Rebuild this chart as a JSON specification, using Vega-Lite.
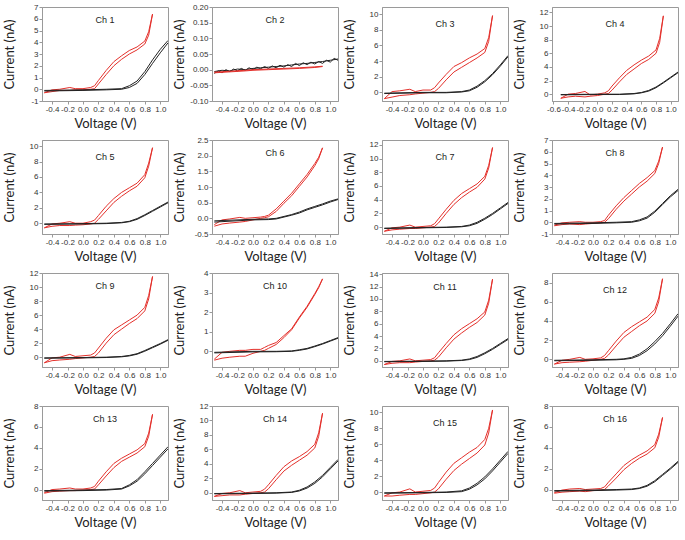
{
"$schema": "https://vega.github.io/schema/vega-lite/v6.json",
"padding": {"left": 2, "top": 2, "right": 1, "bottom": 1},
"background": "white",
"data": {"values": [
{"c":1,"s":"r1","v":-0.5,"i":-0.3},{"c":1,"s":"r1","v":-0.4,"i":-0.05},{"c":1,"s":"r1","v":-0.3,"i":0.0},{"c":1,"s":"r1","v":-0.17,"i":0.15},{"c":1,"s":"r1","v":-0.1,"i":0.05},{"c":1,"s":"r1","v":0,"i":0.05},{"c":1,"s":"r1","v":0.1,"i":0.15},{"c":1,"s":"r1","v":0.15,"i":0.3},{"c":1,"s":"r1","v":0.2,"i":0.75},{"c":1,"s":"r1","v":0.3,"i":1.6},{"c":1,"s":"r1","v":0.4,"i":2.35},{"c":1,"s":"r1","v":0.5,"i":2.85},{"c":1,"s":"r1","v":0.6,"i":3.3},{"c":1,"s":"r1","v":0.7,"i":3.6},{"c":1,"s":"r1","v":0.8,"i":4.1},{"c":1,"s":"r1","v":0.85,"i":4.9},{"c":1,"s":"r1","v":0.9,"i":6.4},
{"c":1,"s":"r2","v":-0.5,"i":-0.3},{"c":1,"s":"r2","v":-0.4,"i":-0.2},{"c":1,"s":"r2","v":-0.3,"i":-0.1},{"c":1,"s":"r2","v":-0.17,"i":-0.1},{"c":1,"s":"r2","v":-0.1,"i":-0.05},{"c":1,"s":"r2","v":0,"i":-0.05},{"c":1,"s":"r2","v":0.1,"i":0.0},{"c":1,"s":"r2","v":0.15,"i":0.05},{"c":1,"s":"r2","v":0.2,"i":0.45},{"c":1,"s":"r2","v":0.3,"i":1.25},{"c":1,"s":"r2","v":0.4,"i":2.0},{"c":1,"s":"r2","v":0.5,"i":2.55},{"c":1,"s":"r2","v":0.6,"i":3.0},{"c":1,"s":"r2","v":0.7,"i":3.35},{"c":1,"s":"r2","v":0.8,"i":3.85},{"c":1,"s":"r2","v":0.85,"i":4.6},{"c":1,"s":"r2","v":0.9,"i":6.4},
{"c":1,"s":"k1","v":-0.5,"i":-0.1},{"c":1,"s":"k1","v":0,"i":-0.05},{"c":1,"s":"k1","v":0.3,"i":0.0},{"c":1,"s":"k1","v":0.5,"i":0.05},{"c":1,"s":"k1","v":0.6,"i":0.3},{"c":1,"s":"k1","v":0.7,"i":0.7},{"c":1,"s":"k1","v":0.8,"i":1.5},{"c":1,"s":"k1","v":0.9,"i":2.5},{"c":1,"s":"k1","v":1.0,"i":3.4},{"c":1,"s":"k1","v":1.1,"i":4.15},
{"c":1,"s":"k2","v":-0.5,"i":-0.15},{"c":1,"s":"k2","v":0,"i":-0.1},{"c":1,"s":"k2","v":0.3,"i":-0.05},{"c":1,"s":"k2","v":0.5,"i":0.0},{"c":1,"s":"k2","v":0.6,"i":0.15},{"c":1,"s":"k2","v":0.7,"i":0.5},{"c":1,"s":"k2","v":0.8,"i":1.25},{"c":1,"s":"k2","v":0.9,"i":2.2},{"c":1,"s":"k2","v":1.0,"i":3.1},{"c":1,"s":"k2","v":1.1,"i":3.95},

{"c":2,"s":"k1","v":-0.5,"i":-0.012},{"c":2,"s":"k1","v":-0.45,"i":-0.004},{"c":2,"s":"k1","v":-0.4,"i":-0.010},{"c":2,"s":"k1","v":-0.35,"i":0.0},{"c":2,"s":"k1","v":-0.3,"i":-0.006},{"c":2,"s":"k1","v":-0.25,"i":0.002},{"c":2,"s":"k1","v":-0.2,"i":-0.004},{"c":2,"s":"k1","v":-0.15,"i":0.004},{"c":2,"s":"k1","v":-0.1,"i":-0.002},{"c":2,"s":"k1","v":-0.05,"i":0.006},{"c":2,"s":"k1","v":0,"i":0.0},{"c":2,"s":"k1","v":0.05,"i":0.008},{"c":2,"s":"k1","v":0.1,"i":0.003},{"c":2,"s":"k1","v":0.15,"i":0.010},{"c":2,"s":"k1","v":0.2,"i":0.004},{"c":2,"s":"k1","v":0.25,"i":0.012},{"c":2,"s":"k1","v":0.3,"i":0.006},{"c":2,"s":"k1","v":0.35,"i":0.014},{"c":2,"s":"k1","v":0.4,"i":0.008},{"c":2,"s":"k1","v":0.45,"i":0.016},{"c":2,"s":"k1","v":0.5,"i":0.010},{"c":2,"s":"k1","v":0.55,"i":0.020},{"c":2,"s":"k1","v":0.6,"i":0.013},{"c":2,"s":"k1","v":0.65,"i":0.022},{"c":2,"s":"k1","v":0.7,"i":0.016},{"c":2,"s":"k1","v":0.75,"i":0.024},{"c":2,"s":"k1","v":0.8,"i":0.018},{"c":2,"s":"k1","v":0.85,"i":0.026},{"c":2,"s":"k1","v":0.9,"i":0.020},{"c":2,"s":"k1","v":0.95,"i":0.030},{"c":2,"s":"k1","v":1.0,"i":0.024},{"c":2,"s":"k1","v":1.05,"i":0.036},{"c":2,"s":"k1","v":1.1,"i":0.030},
{"c":2,"s":"k2","v":-0.5,"i":-0.006},{"c":2,"s":"k2","v":-0.4,"i":-0.002},{"c":2,"s":"k2","v":-0.3,"i":-0.004},{"c":2,"s":"k2","v":-0.2,"i":0.002},{"c":2,"s":"k2","v":-0.1,"i":0.0},{"c":2,"s":"k2","v":0,"i":0.004},{"c":2,"s":"k2","v":0.1,"i":0.006},{"c":2,"s":"k2","v":0.2,"i":0.008},{"c":2,"s":"k2","v":0.3,"i":0.010},{"c":2,"s":"k2","v":0.4,"i":0.012},{"c":2,"s":"k2","v":0.5,"i":0.015},{"c":2,"s":"k2","v":0.6,"i":0.018},{"c":2,"s":"k2","v":0.7,"i":0.020},{"c":2,"s":"k2","v":0.8,"i":0.023},{"c":2,"s":"k2","v":0.9,"i":0.026},{"c":2,"s":"k2","v":1.0,"i":0.030},{"c":2,"s":"k2","v":1.1,"i":0.034},
{"c":2,"s":"r1","v":-0.5,"i":-0.008},{"c":2,"s":"r1","v":-0.3,"i":-0.005},{"c":2,"s":"r1","v":-0.1,"i":-0.002},{"c":2,"s":"r1","v":0,"i":0.0},{"c":2,"s":"r1","v":0.2,"i":0.002},{"c":2,"s":"r1","v":0.4,"i":0.004},{"c":2,"s":"r1","v":0.6,"i":0.006},{"c":2,"s":"r1","v":0.8,"i":0.009},{"c":2,"s":"r1","v":0.9,"i":0.011},
{"c":2,"s":"r2","v":-0.5,"i":-0.010},{"c":2,"s":"r2","v":-0.3,"i":-0.007},{"c":2,"s":"r2","v":-0.1,"i":-0.004},{"c":2,"s":"r2","v":0,"i":-0.002},{"c":2,"s":"r2","v":0.2,"i":0.0},{"c":2,"s":"r2","v":0.4,"i":0.002},{"c":2,"s":"r2","v":0.6,"i":0.004},{"c":2,"s":"r2","v":0.8,"i":0.007},{"c":2,"s":"r2","v":0.9,"i":0.010},

{"c":3,"s":"r1","v":-0.5,"i":-0.8},{"c":3,"s":"r1","v":-0.4,"i":0.1},{"c":3,"s":"r1","v":-0.3,"i":0.2},{"c":3,"s":"r1","v":-0.17,"i":0.4},{"c":3,"s":"r1","v":-0.1,"i":0.1},{"c":3,"s":"r1","v":0,"i":0.3},{"c":3,"s":"r1","v":0.1,"i":0.3},{"c":3,"s":"r1","v":0.15,"i":0.6},{"c":3,"s":"r1","v":0.2,"i":1.2},{"c":3,"s":"r1","v":0.3,"i":2.3},{"c":3,"s":"r1","v":0.4,"i":3.3},{"c":3,"s":"r1","v":0.5,"i":3.8},{"c":3,"s":"r1","v":0.6,"i":4.4},{"c":3,"s":"r1","v":0.7,"i":4.9},{"c":3,"s":"r1","v":0.8,"i":5.6},{"c":3,"s":"r1","v":0.85,"i":7.0},{"c":3,"s":"r1","v":0.9,"i":9.8},
{"c":3,"s":"r2","v":-0.5,"i":-0.8},{"c":3,"s":"r2","v":-0.4,"i":-0.6},{"c":3,"s":"r2","v":-0.3,"i":-0.4},{"c":3,"s":"r2","v":-0.17,"i":-0.3},{"c":3,"s":"r2","v":-0.1,"i":-0.2},{"c":3,"s":"r2","v":0,"i":-0.1},{"c":3,"s":"r2","v":0.1,"i":0.0},{"c":3,"s":"r2","v":0.15,"i":0.1},{"c":3,"s":"r2","v":0.2,"i":0.5},{"c":3,"s":"r2","v":0.3,"i":1.6},{"c":3,"s":"r2","v":0.4,"i":2.6},{"c":3,"s":"r2","v":0.5,"i":3.2},{"c":3,"s":"r2","v":0.6,"i":3.8},{"c":3,"s":"r2","v":0.7,"i":4.4},{"c":3,"s":"r2","v":0.8,"i":5.1},{"c":3,"s":"r2","v":0.85,"i":6.5},{"c":3,"s":"r2","v":0.9,"i":9.8},
{"c":3,"s":"k1","v":-0.5,"i":-0.1},{"c":3,"s":"k1","v":0,"i":0.0},{"c":3,"s":"k1","v":0.3,"i":0.0},{"c":3,"s":"k1","v":0.5,"i":0.1},{"c":3,"s":"k1","v":0.6,"i":0.3},{"c":3,"s":"k1","v":0.7,"i":0.8},{"c":3,"s":"k1","v":0.8,"i":1.5},{"c":3,"s":"k1","v":0.9,"i":2.4},{"c":3,"s":"k1","v":1.0,"i":3.5},{"c":3,"s":"k1","v":1.1,"i":4.7},
{"c":3,"s":"k2","v":-0.5,"i":-0.15},{"c":3,"s":"k2","v":0,"i":-0.05},{"c":3,"s":"k2","v":0.3,"i":-0.05},{"c":3,"s":"k2","v":0.5,"i":0.05},{"c":3,"s":"k2","v":0.6,"i":0.2},{"c":3,"s":"k2","v":0.7,"i":0.65},{"c":3,"s":"k2","v":0.8,"i":1.35},{"c":3,"s":"k2","v":0.9,"i":2.25},{"c":3,"s":"k2","v":1.0,"i":3.35},{"c":3,"s":"k2","v":1.1,"i":4.55},

{"c":4,"s":"r1","v":-0.5,"i":-0.6},{"c":4,"s":"r1","v":-0.4,"i":0.0},{"c":4,"s":"r1","v":-0.3,"i":0.1},{"c":4,"s":"r1","v":-0.17,"i":0.4},{"c":4,"s":"r1","v":-0.1,"i":-0.1},{"c":4,"s":"r1","v":0,"i":0.0},{"c":4,"s":"r1","v":0.1,"i":0.2},{"c":4,"s":"r1","v":0.15,"i":0.5},{"c":4,"s":"r1","v":0.2,"i":1.2},{"c":4,"s":"r1","v":0.3,"i":2.4},{"c":4,"s":"r1","v":0.4,"i":3.5},{"c":4,"s":"r1","v":0.5,"i":4.3},{"c":4,"s":"r1","v":0.6,"i":5.0},{"c":4,"s":"r1","v":0.7,"i":5.6},{"c":4,"s":"r1","v":0.8,"i":6.5},{"c":4,"s":"r1","v":0.85,"i":8.2},{"c":4,"s":"r1","v":0.9,"i":11.5},
{"c":4,"s":"r2","v":-0.5,"i":-0.6},{"c":4,"s":"r2","v":-0.4,"i":-0.4},{"c":4,"s":"r2","v":-0.3,"i":-0.3},{"c":4,"s":"r2","v":-0.17,"i":-0.4},{"c":4,"s":"r2","v":-0.1,"i":-0.3},{"c":4,"s":"r2","v":0,"i":-0.2},{"c":4,"s":"r2","v":0.1,"i":0.0},{"c":4,"s":"r2","v":0.15,"i":0.1},{"c":4,"s":"r2","v":0.2,"i":0.6},{"c":4,"s":"r2","v":0.3,"i":1.8},{"c":4,"s":"r2","v":0.4,"i":2.9},{"c":4,"s":"r2","v":0.5,"i":3.7},{"c":4,"s":"r2","v":0.6,"i":4.5},{"c":4,"s":"r2","v":0.7,"i":5.1},{"c":4,"s":"r2","v":0.8,"i":6.0},{"c":4,"s":"r2","v":0.85,"i":7.6},{"c":4,"s":"r2","v":0.9,"i":11.5},
{"c":4,"s":"k1","v":-0.5,"i":-0.05},{"c":4,"s":"k1","v":0,"i":0.0},{"c":4,"s":"k1","v":0.3,"i":0.0},{"c":4,"s":"k1","v":0.5,"i":0.1},{"c":4,"s":"k1","v":0.6,"i":0.25},{"c":4,"s":"k1","v":0.7,"i":0.55},{"c":4,"s":"k1","v":0.8,"i":1.05},{"c":4,"s":"k1","v":0.9,"i":1.75},{"c":4,"s":"k1","v":1.0,"i":2.5},{"c":4,"s":"k1","v":1.1,"i":3.25},
{"c":4,"s":"k2","v":-0.5,"i":-0.1},{"c":4,"s":"k2","v":0,"i":-0.05},{"c":4,"s":"k2","v":0.3,"i":-0.05},{"c":4,"s":"k2","v":0.5,"i":0.05},{"c":4,"s":"k2","v":0.6,"i":0.2},{"c":4,"s":"k2","v":0.7,"i":0.45},{"c":4,"s":"k2","v":0.8,"i":0.95},{"c":4,"s":"k2","v":0.9,"i":1.65},{"c":4,"s":"k2","v":1.0,"i":2.4},{"c":4,"s":"k2","v":1.1,"i":3.15},

{"c":5,"s":"r1","v":-0.5,"i":-0.6},{"c":5,"s":"r1","v":-0.4,"i":-0.1},{"c":5,"s":"r1","v":-0.3,"i":0.0},{"c":5,"s":"r1","v":-0.17,"i":0.2},{"c":5,"s":"r1","v":-0.1,"i":0.0},{"c":5,"s":"r1","v":0,"i":0.0},{"c":5,"s":"r1","v":0.1,"i":0.2},{"c":5,"s":"r1","v":0.15,"i":0.4},{"c":5,"s":"r1","v":0.2,"i":1.0},{"c":5,"s":"r1","v":0.3,"i":2.2},{"c":5,"s":"r1","v":0.4,"i":3.2},{"c":5,"s":"r1","v":0.5,"i":4.0},{"c":5,"s":"r1","v":0.6,"i":4.6},{"c":5,"s":"r1","v":0.7,"i":5.2},{"c":5,"s":"r1","v":0.8,"i":6.3},{"c":5,"s":"r1","v":0.85,"i":7.8},{"c":5,"s":"r1","v":0.9,"i":9.8},
{"c":5,"s":"r2","v":-0.5,"i":-0.6},{"c":5,"s":"r2","v":-0.4,"i":-0.4},{"c":5,"s":"r2","v":-0.3,"i":-0.3},{"c":5,"s":"r2","v":-0.17,"i":-0.3},{"c":5,"s":"r2","v":-0.1,"i":-0.25},{"c":5,"s":"r2","v":0,"i":-0.2},{"c":5,"s":"r2","v":0.1,"i":-0.1},{"c":5,"s":"r2","v":0.15,"i":0.0},{"c":5,"s":"r2","v":0.2,"i":0.5},{"c":5,"s":"r2","v":0.3,"i":1.6},{"c":5,"s":"r2","v":0.4,"i":2.7},{"c":5,"s":"r2","v":0.5,"i":3.5},{"c":5,"s":"r2","v":0.6,"i":4.2},{"c":5,"s":"r2","v":0.7,"i":4.8},{"c":5,"s":"r2","v":0.8,"i":5.9},{"c":5,"s":"r2","v":0.85,"i":7.4},{"c":5,"s":"r2","v":0.9,"i":9.8},
{"c":5,"s":"k1","v":-0.5,"i":-0.1},{"c":5,"s":"k1","v":0,"i":-0.05},{"c":5,"s":"k1","v":0.3,"i":0.0},{"c":5,"s":"k1","v":0.5,"i":0.1},{"c":5,"s":"k1","v":0.6,"i":0.25},{"c":5,"s":"k1","v":0.7,"i":0.6},{"c":5,"s":"k1","v":0.8,"i":1.1},{"c":5,"s":"k1","v":0.9,"i":1.65},{"c":5,"s":"k1","v":1.0,"i":2.2},{"c":5,"s":"k1","v":1.1,"i":2.75},
{"c":5,"s":"k2","v":-0.5,"i":-0.15},{"c":5,"s":"k2","v":0,"i":-0.1},{"c":5,"s":"k2","v":0.3,"i":-0.05},{"c":5,"s":"k2","v":0.5,"i":0.05},{"c":5,"s":"k2","v":0.6,"i":0.2},{"c":5,"s":"k2","v":0.7,"i":0.5},{"c":5,"s":"k2","v":0.8,"i":1.0},{"c":5,"s":"k2","v":0.9,"i":1.55},{"c":5,"s":"k2","v":1.0,"i":2.1},{"c":5,"s":"k2","v":1.1,"i":2.65},

{"c":6,"s":"r1","v":-0.5,"i":-0.2},{"c":6,"s":"r1","v":-0.4,"i":-0.05},{"c":6,"s":"r1","v":-0.3,"i":-0.02},{"c":6,"s":"r1","v":-0.17,"i":0.03},{"c":6,"s":"r1","v":-0.1,"i":0.0},{"c":6,"s":"r1","v":0,"i":0.02},{"c":6,"s":"r1","v":0.1,"i":0.04},{"c":6,"s":"r1","v":0.15,"i":0.06},{"c":6,"s":"r1","v":0.2,"i":0.1},{"c":6,"s":"r1","v":0.3,"i":0.3},{"c":6,"s":"r1","v":0.4,"i":0.55},{"c":6,"s":"r1","v":0.5,"i":0.8},{"c":6,"s":"r1","v":0.6,"i":1.1},{"c":6,"s":"r1","v":0.7,"i":1.4},{"c":6,"s":"r1","v":0.8,"i":1.75},{"c":6,"s":"r1","v":0.85,"i":1.95},{"c":6,"s":"r1","v":0.9,"i":2.25},
{"c":6,"s":"r2","v":-0.5,"i":-0.25},{"c":6,"s":"r2","v":-0.4,"i":-0.18},{"c":6,"s":"r2","v":-0.3,"i":-0.15},{"c":6,"s":"r2","v":-0.17,"i":-0.12},{"c":6,"s":"r2","v":-0.1,"i":-0.1},{"c":6,"s":"r2","v":0,"i":-0.05},{"c":6,"s":"r2","v":0.1,"i":0.0},{"c":6,"s":"r2","v":0.15,"i":0.02},{"c":6,"s":"r2","v":0.2,"i":0.05},{"c":6,"s":"r2","v":0.3,"i":0.22},{"c":6,"s":"r2","v":0.4,"i":0.48},{"c":6,"s":"r2","v":0.5,"i":0.72},{"c":6,"s":"r2","v":0.6,"i":1.02},{"c":6,"s":"r2","v":0.7,"i":1.32},{"c":6,"s":"r2","v":0.8,"i":1.68},{"c":6,"s":"r2","v":0.85,"i":1.9},{"c":6,"s":"r2","v":0.9,"i":2.25},
{"c":6,"s":"k1","v":-0.5,"i":-0.08},{"c":6,"s":"k1","v":0,"i":-0.03},{"c":6,"s":"k1","v":0.2,"i":-0.02},{"c":6,"s":"k1","v":0.3,"i":0.0},{"c":6,"s":"k1","v":0.5,"i":0.12},{"c":6,"s":"k1","v":0.6,"i":0.2},{"c":6,"s":"k1","v":0.7,"i":0.3},{"c":6,"s":"k1","v":0.8,"i":0.38},{"c":6,"s":"k1","v":0.9,"i":0.46},{"c":6,"s":"k1","v":1.0,"i":0.55},{"c":6,"s":"k1","v":1.1,"i":0.62},
{"c":6,"s":"k2","v":-0.5,"i":-0.12},{"c":6,"s":"k2","v":0,"i":-0.05},{"c":6,"s":"k2","v":0.2,"i":-0.04},{"c":6,"s":"k2","v":0.3,"i":-0.02},{"c":6,"s":"k2","v":0.5,"i":0.1},{"c":6,"s":"k2","v":0.6,"i":0.17},{"c":6,"s":"k2","v":0.7,"i":0.27},{"c":6,"s":"k2","v":0.8,"i":0.35},{"c":6,"s":"k2","v":0.9,"i":0.43},{"c":6,"s":"k2","v":1.0,"i":0.52},{"c":6,"s":"k2","v":1.1,"i":0.6},

{"c":7,"s":"r1","v":-0.5,"i":-0.6},{"c":7,"s":"r1","v":-0.4,"i":-0.1},{"c":7,"s":"r1","v":-0.3,"i":0.0},{"c":7,"s":"r1","v":-0.17,"i":0.3},{"c":7,"s":"r1","v":-0.1,"i":0.0},{"c":7,"s":"r1","v":0,"i":0.1},{"c":7,"s":"r1","v":0.1,"i":0.2},{"c":7,"s":"r1","v":0.15,"i":0.5},{"c":7,"s":"r1","v":0.2,"i":1.2},{"c":7,"s":"r1","v":0.3,"i":2.6},{"c":7,"s":"r1","v":0.4,"i":3.9},{"c":7,"s":"r1","v":0.5,"i":4.9},{"c":7,"s":"r1","v":0.6,"i":5.6},{"c":7,"s":"r1","v":0.7,"i":6.3},{"c":7,"s":"r1","v":0.8,"i":7.4},{"c":7,"s":"r1","v":0.85,"i":9.0},{"c":7,"s":"r1","v":0.9,"i":11.6},
{"c":7,"s":"r2","v":-0.5,"i":-0.6},{"c":7,"s":"r2","v":-0.4,"i":-0.4},{"c":7,"s":"r2","v":-0.3,"i":-0.3},{"c":7,"s":"r2","v":-0.17,"i":-0.2},{"c":7,"s":"r2","v":-0.1,"i":-0.2},{"c":7,"s":"r2","v":0,"i":-0.1},{"c":7,"s":"r2","v":0.1,"i":0.0},{"c":7,"s":"r2","v":0.15,"i":0.1},{"c":7,"s":"r2","v":0.2,"i":0.6},{"c":7,"s":"r2","v":0.3,"i":2.0},{"c":7,"s":"r2","v":0.4,"i":3.3},{"c":7,"s":"r2","v":0.5,"i":4.3},{"c":7,"s":"r2","v":0.6,"i":5.1},{"c":7,"s":"r2","v":0.7,"i":5.8},{"c":7,"s":"r2","v":0.8,"i":7.0},{"c":7,"s":"r2","v":0.85,"i":8.6},{"c":7,"s":"r2","v":0.9,"i":11.6},
{"c":7,"s":"k1","v":-0.5,"i":-0.15},{"c":7,"s":"k1","v":0,"i":-0.05},{"c":7,"s":"k1","v":0.3,"i":0.0},{"c":7,"s":"k1","v":0.5,"i":0.1},{"c":7,"s":"k1","v":0.6,"i":0.3},{"c":7,"s":"k1","v":0.7,"i":0.7},{"c":7,"s":"k1","v":0.8,"i":1.3},{"c":7,"s":"k1","v":0.9,"i":2.0},{"c":7,"s":"k1","v":1.0,"i":2.8},{"c":7,"s":"k1","v":1.1,"i":3.6},
{"c":7,"s":"k2","v":-0.5,"i":-0.2},{"c":7,"s":"k2","v":0,"i":-0.1},{"c":7,"s":"k2","v":0.3,"i":-0.05},{"c":7,"s":"k2","v":0.5,"i":0.05},{"c":7,"s":"k2","v":0.6,"i":0.2},{"c":7,"s":"k2","v":0.7,"i":0.55},{"c":7,"s":"k2","v":0.8,"i":1.15},{"c":7,"s":"k2","v":0.9,"i":1.85},{"c":7,"s":"k2","v":1.0,"i":2.65},{"c":7,"s":"k2","v":1.1,"i":3.45},

{"c":8,"s":"r1","v":-0.5,"i":-0.25},{"c":8,"s":"r1","v":-0.4,"i":-0.05},{"c":8,"s":"r1","v":-0.3,"i":0.0},{"c":8,"s":"r1","v":-0.17,"i":0.05},{"c":8,"s":"r1","v":-0.1,"i":0.0},{"c":8,"s":"r1","v":0,"i":0.0},{"c":8,"s":"r1","v":0.1,"i":0.05},{"c":8,"s":"r1","v":0.15,"i":0.15},{"c":8,"s":"r1","v":0.2,"i":0.6},{"c":8,"s":"r1","v":0.3,"i":1.4},{"c":8,"s":"r1","v":0.4,"i":2.1},{"c":8,"s":"r1","v":0.5,"i":2.7},{"c":8,"s":"r1","v":0.6,"i":3.3},{"c":8,"s":"r1","v":0.7,"i":3.8},{"c":8,"s":"r1","v":0.8,"i":4.4},{"c":8,"s":"r1","v":0.85,"i":5.2},{"c":8,"s":"r1","v":0.9,"i":6.4},
{"c":8,"s":"r2","v":-0.5,"i":-0.3},{"c":8,"s":"r2","v":-0.4,"i":-0.2},{"c":8,"s":"r2","v":-0.3,"i":-0.15},{"c":8,"s":"r2","v":-0.17,"i":-0.2},{"c":8,"s":"r2","v":-0.1,"i":-0.15},{"c":8,"s":"r2","v":0,"i":-0.1},{"c":8,"s":"r2","v":0.1,"i":-0.05},{"c":8,"s":"r2","v":0.15,"i":0.0},{"c":8,"s":"r2","v":0.2,"i":0.3},{"c":8,"s":"r2","v":0.3,"i":1.1},{"c":8,"s":"r2","v":0.4,"i":1.8},{"c":8,"s":"r2","v":0.5,"i":2.4},{"c":8,"s":"r2","v":0.6,"i":3.0},{"c":8,"s":"r2","v":0.7,"i":3.5},{"c":8,"s":"r2","v":0.8,"i":4.15},{"c":8,"s":"r2","v":0.85,"i":5.0},{"c":8,"s":"r2","v":0.9,"i":6.4},
{"c":8,"s":"k1","v":-0.5,"i":-0.1},{"c":8,"s":"k1","v":0,"i":-0.05},{"c":8,"s":"k1","v":0.3,"i":0.0},{"c":8,"s":"k1","v":0.5,"i":0.05},{"c":8,"s":"k1","v":0.6,"i":0.2},{"c":8,"s":"k1","v":0.7,"i":0.45},{"c":8,"s":"k1","v":0.8,"i":0.95},{"c":8,"s":"k1","v":0.9,"i":1.6},{"c":8,"s":"k1","v":1.0,"i":2.25},{"c":8,"s":"k1","v":1.1,"i":2.8},
{"c":8,"s":"k2","v":-0.5,"i":-0.15},{"c":8,"s":"k2","v":0,"i":-0.1},{"c":8,"s":"k2","v":0.3,"i":-0.05},{"c":8,"s":"k2","v":0.5,"i":0.0},{"c":8,"s":"k2","v":0.6,"i":0.12},{"c":8,"s":"k2","v":0.7,"i":0.35},{"c":8,"s":"k2","v":0.8,"i":0.85},{"c":8,"s":"k2","v":0.9,"i":1.5},{"c":8,"s":"k2","v":1.0,"i":2.15},{"c":8,"s":"k2","v":1.1,"i":2.7},

{"c":9,"s":"r1","v":-0.5,"i":-0.8},{"c":9,"s":"r1","v":-0.4,"i":-0.1},{"c":9,"s":"r1","v":-0.3,"i":0.0},{"c":9,"s":"r1","v":-0.17,"i":0.4},{"c":9,"s":"r1","v":-0.1,"i":0.1},{"c":9,"s":"r1","v":0,"i":0.2},{"c":9,"s":"r1","v":0.1,"i":0.3},{"c":9,"s":"r1","v":0.15,"i":0.6},{"c":9,"s":"r1","v":0.2,"i":1.3},{"c":9,"s":"r1","v":0.3,"i":2.7},{"c":9,"s":"r1","v":0.4,"i":3.9},{"c":9,"s":"r1","v":0.5,"i":4.6},{"c":9,"s":"r1","v":0.6,"i":5.3},{"c":9,"s":"r1","v":0.7,"i":6.0},{"c":9,"s":"r1","v":0.8,"i":7.1},{"c":9,"s":"r1","v":0.85,"i":8.8},{"c":9,"s":"r1","v":0.9,"i":11.5},
{"c":9,"s":"r2","v":-0.5,"i":-0.8},{"c":9,"s":"r2","v":-0.4,"i":-0.5},{"c":9,"s":"r2","v":-0.3,"i":-0.4},{"c":9,"s":"r2","v":-0.17,"i":-0.3},{"c":9,"s":"r2","v":-0.1,"i":-0.2},{"c":9,"s":"r2","v":0,"i":-0.1},{"c":9,"s":"r2","v":0.1,"i":0.0},{"c":9,"s":"r2","v":0.15,"i":0.1},{"c":9,"s":"r2","v":0.2,"i":0.6},{"c":9,"s":"r2","v":0.3,"i":2.0},{"c":9,"s":"r2","v":0.4,"i":3.2},{"c":9,"s":"r2","v":0.5,"i":4.0},{"c":9,"s":"r2","v":0.6,"i":4.8},{"c":9,"s":"r2","v":0.7,"i":5.5},{"c":9,"s":"r2","v":0.8,"i":6.6},{"c":9,"s":"r2","v":0.85,"i":8.3},{"c":9,"s":"r2","v":0.9,"i":11.5},
{"c":9,"s":"k1","v":-0.5,"i":-0.1},{"c":9,"s":"k1","v":0,"i":-0.05},{"c":9,"s":"k1","v":0.3,"i":0.0},{"c":9,"s":"k1","v":0.5,"i":0.1},{"c":9,"s":"k1","v":0.6,"i":0.25},{"c":9,"s":"k1","v":0.7,"i":0.5},{"c":9,"s":"k1","v":0.8,"i":0.95},{"c":9,"s":"k1","v":0.9,"i":1.45},{"c":9,"s":"k1","v":1.0,"i":1.95},{"c":9,"s":"k1","v":1.1,"i":2.5},
{"c":9,"s":"k2","v":-0.5,"i":-0.15},{"c":9,"s":"k2","v":0,"i":-0.1},{"c":9,"s":"k2","v":0.3,"i":-0.05},{"c":9,"s":"k2","v":0.5,"i":0.05},{"c":9,"s":"k2","v":0.6,"i":0.18},{"c":9,"s":"k2","v":0.7,"i":0.42},{"c":9,"s":"k2","v":0.8,"i":0.85},{"c":9,"s":"k2","v":0.9,"i":1.35},{"c":9,"s":"k2","v":1.0,"i":1.85},{"c":9,"s":"k2","v":1.1,"i":2.4},

{"c":10,"s":"r1","v":-0.5,"i":-0.4},{"c":10,"s":"r1","v":-0.4,"i":-0.05},{"c":10,"s":"r1","v":-0.3,"i":0.0},{"c":10,"s":"r1","v":-0.17,"i":0.05},{"c":10,"s":"r1","v":-0.1,"i":0.05},{"c":10,"s":"r1","v":0,"i":0.1},{"c":10,"s":"r1","v":0.1,"i":0.1},{"c":10,"s":"r1","v":0.15,"i":0.2},{"c":10,"s":"r1","v":0.2,"i":0.3},{"c":10,"s":"r1","v":0.3,"i":0.45},{"c":10,"s":"r1","v":0.4,"i":0.8},{"c":10,"s":"r1","v":0.5,"i":1.15},{"c":10,"s":"r1","v":0.6,"i":1.75},{"c":10,"s":"r1","v":0.7,"i":2.3},{"c":10,"s":"r1","v":0.8,"i":2.95},{"c":10,"s":"r1","v":0.85,"i":3.3},{"c":10,"s":"r1","v":0.9,"i":3.7},
{"c":10,"s":"r2","v":-0.5,"i":-0.45},{"c":10,"s":"r2","v":-0.4,"i":-0.35},{"c":10,"s":"r2","v":-0.3,"i":-0.3},{"c":10,"s":"r2","v":-0.17,"i":-0.25},{"c":10,"s":"r2","v":-0.1,"i":-0.25},{"c":10,"s":"r2","v":0,"i":-0.1},{"c":10,"s":"r2","v":0.1,"i":0.0},{"c":10,"s":"r2","v":0.15,"i":0.05},{"c":10,"s":"r2","v":0.2,"i":0.15},{"c":10,"s":"r2","v":0.3,"i":0.35},{"c":10,"s":"r2","v":0.4,"i":0.7},{"c":10,"s":"r2","v":0.5,"i":1.1},{"c":10,"s":"r2","v":0.6,"i":1.7},{"c":10,"s":"r2","v":0.7,"i":2.25},{"c":10,"s":"r2","v":0.8,"i":2.9},{"c":10,"s":"r2","v":0.85,"i":3.25},{"c":10,"s":"r2","v":0.9,"i":3.7},
{"c":10,"s":"k1","v":-0.5,"i":-0.05},{"c":10,"s":"k1","v":0,"i":0.0},{"c":10,"s":"k1","v":0.3,"i":0.0},{"c":10,"s":"k1","v":0.5,"i":0.02},{"c":10,"s":"k1","v":0.6,"i":0.08},{"c":10,"s":"k1","v":0.7,"i":0.15},{"c":10,"s":"k1","v":0.8,"i":0.27},{"c":10,"s":"k1","v":0.9,"i":0.4},{"c":10,"s":"k1","v":1.0,"i":0.55},{"c":10,"s":"k1","v":1.1,"i":0.7},
{"c":10,"s":"k2","v":-0.5,"i":-0.08},{"c":10,"s":"k2","v":0,"i":-0.03},{"c":10,"s":"k2","v":0.3,"i":-0.02},{"c":10,"s":"k2","v":0.5,"i":0.0},{"c":10,"s":"k2","v":0.6,"i":0.05},{"c":10,"s":"k2","v":0.7,"i":0.12},{"c":10,"s":"k2","v":0.8,"i":0.24},{"c":10,"s":"k2","v":0.9,"i":0.37},{"c":10,"s":"k2","v":1.0,"i":0.52},{"c":10,"s":"k2","v":1.1,"i":0.67},

{"c":11,"s":"r1","v":-0.5,"i":-0.6},{"c":11,"s":"r1","v":-0.4,"i":-0.1},{"c":11,"s":"r1","v":-0.3,"i":0.0},{"c":11,"s":"r1","v":-0.17,"i":0.3},{"c":11,"s":"r1","v":-0.1,"i":0.0},{"c":11,"s":"r1","v":0,"i":0.1},{"c":11,"s":"r1","v":0.1,"i":0.2},{"c":11,"s":"r1","v":0.15,"i":0.5},{"c":11,"s":"r1","v":0.2,"i":1.3},{"c":11,"s":"r1","v":0.3,"i":2.8},{"c":11,"s":"r1","v":0.4,"i":4.2},{"c":11,"s":"r1","v":0.5,"i":5.2},{"c":11,"s":"r1","v":0.6,"i":6.0},{"c":11,"s":"r1","v":0.7,"i":6.8},{"c":11,"s":"r1","v":0.8,"i":7.9},{"c":11,"s":"r1","v":0.85,"i":9.8},{"c":11,"s":"r1","v":0.9,"i":13.2},
{"c":11,"s":"r2","v":-0.5,"i":-0.6},{"c":11,"s":"r2","v":-0.4,"i":-0.4},{"c":11,"s":"r2","v":-0.3,"i":-0.3},{"c":11,"s":"r2","v":-0.17,"i":-0.3},{"c":11,"s":"r2","v":-0.1,"i":-0.2},{"c":11,"s":"r2","v":0,"i":-0.1},{"c":11,"s":"r2","v":0.1,"i":0.0},{"c":11,"s":"r2","v":0.15,"i":0.1},{"c":11,"s":"r2","v":0.2,"i":0.6},{"c":11,"s":"r2","v":0.3,"i":2.1},{"c":11,"s":"r2","v":0.4,"i":3.5},{"c":11,"s":"r2","v":0.5,"i":4.5},{"c":11,"s":"r2","v":0.6,"i":5.4},{"c":11,"s":"r2","v":0.7,"i":6.2},{"c":11,"s":"r2","v":0.8,"i":7.4},{"c":11,"s":"r2","v":0.85,"i":9.3},{"c":11,"s":"r2","v":0.9,"i":13.2},
{"c":11,"s":"k1","v":-0.5,"i":-0.1},{"c":11,"s":"k1","v":0,"i":-0.05},{"c":11,"s":"k1","v":0.3,"i":0.0},{"c":11,"s":"k1","v":0.5,"i":0.1},{"c":11,"s":"k1","v":0.6,"i":0.3},{"c":11,"s":"k1","v":0.7,"i":0.7},{"c":11,"s":"k1","v":0.8,"i":1.3},{"c":11,"s":"k1","v":0.9,"i":2.0},{"c":11,"s":"k1","v":1.0,"i":2.8},{"c":11,"s":"k1","v":1.1,"i":3.6},
{"c":11,"s":"k2","v":-0.5,"i":-0.15},{"c":11,"s":"k2","v":0,"i":-0.1},{"c":11,"s":"k2","v":0.3,"i":-0.05},{"c":11,"s":"k2","v":0.5,"i":0.05},{"c":11,"s":"k2","v":0.6,"i":0.2},{"c":11,"s":"k2","v":0.7,"i":0.55},{"c":11,"s":"k2","v":0.8,"i":1.15},{"c":11,"s":"k2","v":0.9,"i":1.85},{"c":11,"s":"k2","v":1.0,"i":2.65},{"c":11,"s":"k2","v":1.1,"i":3.45},

{"c":12,"s":"r1","v":-0.5,"i":-0.5},{"c":12,"s":"r1","v":-0.4,"i":-0.1},{"c":12,"s":"r1","v":-0.3,"i":0.0},{"c":12,"s":"r1","v":-0.17,"i":0.2},{"c":12,"s":"r1","v":-0.1,"i":0.0},{"c":12,"s":"r1","v":0,"i":0.05},{"c":12,"s":"r1","v":0.1,"i":0.15},{"c":12,"s":"r1","v":0.15,"i":0.4},{"c":12,"s":"r1","v":0.2,"i":0.9},{"c":12,"s":"r1","v":0.3,"i":1.9},{"c":12,"s":"r1","v":0.4,"i":2.8},{"c":12,"s":"r1","v":0.5,"i":3.4},{"c":12,"s":"r1","v":0.6,"i":3.9},{"c":12,"s":"r1","v":0.7,"i":4.4},{"c":12,"s":"r1","v":0.8,"i":5.2},{"c":12,"s":"r1","v":0.85,"i":6.4},{"c":12,"s":"r1","v":0.9,"i":8.4},
{"c":12,"s":"r2","v":-0.5,"i":-0.5},{"c":12,"s":"r2","v":-0.4,"i":-0.35},{"c":12,"s":"r2","v":-0.3,"i":-0.3},{"c":12,"s":"r2","v":-0.17,"i":-0.25},{"c":12,"s":"r2","v":-0.1,"i":-0.2},{"c":12,"s":"r2","v":0,"i":-0.1},{"c":12,"s":"r2","v":0.1,"i":0.0},{"c":12,"s":"r2","v":0.15,"i":0.1},{"c":12,"s":"r2","v":0.2,"i":0.45},{"c":12,"s":"r2","v":0.3,"i":1.4},{"c":12,"s":"r2","v":0.4,"i":2.3},{"c":12,"s":"r2","v":0.5,"i":2.9},{"c":12,"s":"r2","v":0.6,"i":3.5},{"c":12,"s":"r2","v":0.7,"i":4.0},{"c":12,"s":"r2","v":0.8,"i":4.8},{"c":12,"s":"r2","v":0.85,"i":6.0},{"c":12,"s":"r2","v":0.9,"i":8.4},
{"c":12,"s":"k1","v":-0.5,"i":-0.1},{"c":12,"s":"k1","v":0,"i":-0.05},{"c":12,"s":"k1","v":0.3,"i":0.0},{"c":12,"s":"k1","v":0.4,"i":0.05},{"c":12,"s":"k1","v":0.5,"i":0.2},{"c":12,"s":"k1","v":0.6,"i":0.55},{"c":12,"s":"k1","v":0.7,"i":1.1},{"c":12,"s":"k1","v":0.8,"i":1.85},{"c":12,"s":"k1","v":0.9,"i":2.7},{"c":12,"s":"k1","v":1.0,"i":3.7},{"c":12,"s":"k1","v":1.1,"i":4.75},
{"c":12,"s":"k2","v":-0.5,"i":-0.15},{"c":12,"s":"k2","v":0,"i":-0.1},{"c":12,"s":"k2","v":0.3,"i":-0.05},{"c":12,"s":"k2","v":0.4,"i":0.0},{"c":12,"s":"k2","v":0.5,"i":0.1},{"c":12,"s":"k2","v":0.6,"i":0.4},{"c":12,"s":"k2","v":0.7,"i":0.9},{"c":12,"s":"k2","v":0.8,"i":1.6},{"c":12,"s":"k2","v":0.9,"i":2.45},{"c":12,"s":"k2","v":1.0,"i":3.45},{"c":12,"s":"k2","v":1.1,"i":4.5},

{"c":13,"s":"r1","v":-0.5,"i":-0.3},{"c":13,"s":"r1","v":-0.4,"i":0.0},{"c":13,"s":"r1","v":-0.3,"i":0.05},{"c":13,"s":"r1","v":-0.17,"i":0.15},{"c":13,"s":"r1","v":-0.1,"i":0.05},{"c":13,"s":"r1","v":0,"i":0.05},{"c":13,"s":"r1","v":0.1,"i":0.15},{"c":13,"s":"r1","v":0.15,"i":0.3},{"c":13,"s":"r1","v":0.2,"i":0.8},{"c":13,"s":"r1","v":0.3,"i":1.7},{"c":13,"s":"r1","v":0.4,"i":2.5},{"c":13,"s":"r1","v":0.5,"i":3.0},{"c":13,"s":"r1","v":0.6,"i":3.4},{"c":13,"s":"r1","v":0.7,"i":3.8},{"c":13,"s":"r1","v":0.8,"i":4.4},{"c":13,"s":"r1","v":0.85,"i":5.4},{"c":13,"s":"r1","v":0.9,"i":7.2},
{"c":13,"s":"r2","v":-0.5,"i":-0.35},{"c":13,"s":"r2","v":-0.4,"i":-0.2},{"c":13,"s":"r2","v":-0.3,"i":-0.15},{"c":13,"s":"r2","v":-0.17,"i":-0.1},{"c":13,"s":"r2","v":-0.1,"i":-0.1},{"c":13,"s":"r2","v":0,"i":-0.05},{"c":13,"s":"r2","v":0.1,"i":0.0},{"c":13,"s":"r2","v":0.15,"i":0.05},{"c":13,"s":"r2","v":0.2,"i":0.45},{"c":13,"s":"r2","v":0.3,"i":1.3},{"c":13,"s":"r2","v":0.4,"i":2.1},{"c":13,"s":"r2","v":0.5,"i":2.7},{"c":13,"s":"r2","v":0.6,"i":3.1},{"c":13,"s":"r2","v":0.7,"i":3.5},{"c":13,"s":"r2","v":0.8,"i":4.1},{"c":13,"s":"r2","v":0.85,"i":5.1},{"c":13,"s":"r2","v":0.9,"i":7.2},
{"c":13,"s":"k1","v":-0.5,"i":-0.1},{"c":13,"s":"k1","v":0,"i":-0.05},{"c":13,"s":"k1","v":0.3,"i":0.0},{"c":13,"s":"k1","v":0.5,"i":0.1},{"c":13,"s":"k1","v":0.6,"i":0.45},{"c":13,"s":"k1","v":0.7,"i":0.95},{"c":13,"s":"k1","v":0.8,"i":1.7},{"c":13,"s":"k1","v":0.9,"i":2.5},{"c":13,"s":"k1","v":1.0,"i":3.3},{"c":13,"s":"k1","v":1.1,"i":4.1},
{"c":13,"s":"k2","v":-0.5,"i":-0.15},{"c":13,"s":"k2","v":0,"i":-0.1},{"c":13,"s":"k2","v":0.3,"i":-0.05},{"c":13,"s":"k2","v":0.5,"i":0.05},{"c":13,"s":"k2","v":0.6,"i":0.35},{"c":13,"s":"k2","v":0.7,"i":0.8},{"c":13,"s":"k2","v":0.8,"i":1.5},{"c":13,"s":"k2","v":0.9,"i":2.3},{"c":13,"s":"k2","v":1.0,"i":3.1},{"c":13,"s":"k2","v":1.1,"i":3.9},

{"c":14,"s":"r1","v":-0.5,"i":-0.5},{"c":14,"s":"r1","v":-0.4,"i":-0.1},{"c":14,"s":"r1","v":-0.3,"i":0.0},{"c":14,"s":"r1","v":-0.17,"i":0.3},{"c":14,"s":"r1","v":-0.1,"i":0.0},{"c":14,"s":"r1","v":0,"i":0.1},{"c":14,"s":"r1","v":0.1,"i":0.2},{"c":14,"s":"r1","v":0.15,"i":0.5},{"c":14,"s":"r1","v":0.2,"i":1.1},{"c":14,"s":"r1","v":0.3,"i":2.4},{"c":14,"s":"r1","v":0.4,"i":3.6},{"c":14,"s":"r1","v":0.5,"i":4.4},{"c":14,"s":"r1","v":0.6,"i":5.0},{"c":14,"s":"r1","v":0.7,"i":5.7},{"c":14,"s":"r1","v":0.8,"i":6.7},{"c":14,"s":"r1","v":0.85,"i":8.3},{"c":14,"s":"r1","v":0.9,"i":11.0},
{"c":14,"s":"r2","v":-0.5,"i":-0.5},{"c":14,"s":"r2","v":-0.4,"i":-0.4},{"c":14,"s":"r2","v":-0.3,"i":-0.3},{"c":14,"s":"r2","v":-0.17,"i":-0.3},{"c":14,"s":"r2","v":-0.1,"i":-0.2},{"c":14,"s":"r2","v":0,"i":-0.1},{"c":14,"s":"r2","v":0.1,"i":0.0},{"c":14,"s":"r2","v":0.15,"i":0.1},{"c":14,"s":"r2","v":0.2,"i":0.55},{"c":14,"s":"r2","v":0.3,"i":1.8},{"c":14,"s":"r2","v":0.4,"i":3.0},{"c":14,"s":"r2","v":0.5,"i":3.8},{"c":14,"s":"r2","v":0.6,"i":4.5},{"c":14,"s":"r2","v":0.7,"i":5.2},{"c":14,"s":"r2","v":0.8,"i":6.2},{"c":14,"s":"r2","v":0.85,"i":7.8},{"c":14,"s":"r2","v":0.9,"i":11.0},
{"c":14,"s":"k1","v":-0.5,"i":-0.1},{"c":14,"s":"k1","v":0,"i":-0.05},{"c":14,"s":"k1","v":0.3,"i":0.0},{"c":14,"s":"k1","v":0.5,"i":0.1},{"c":14,"s":"k1","v":0.6,"i":0.35},{"c":14,"s":"k1","v":0.7,"i":0.8},{"c":14,"s":"k1","v":0.8,"i":1.5},{"c":14,"s":"k1","v":0.9,"i":2.4},{"c":14,"s":"k1","v":1.0,"i":3.5},{"c":14,"s":"k1","v":1.1,"i":4.6},
{"c":14,"s":"k2","v":-0.5,"i":-0.15},{"c":14,"s":"k2","v":0,"i":-0.1},{"c":14,"s":"k2","v":0.3,"i":-0.05},{"c":14,"s":"k2","v":0.5,"i":0.05},{"c":14,"s":"k2","v":0.6,"i":0.25},{"c":14,"s":"k2","v":0.7,"i":0.65},{"c":14,"s":"k2","v":0.8,"i":1.3},{"c":14,"s":"k2","v":0.9,"i":2.2},{"c":14,"s":"k2","v":1.0,"i":3.3},{"c":14,"s":"k2","v":1.1,"i":4.4},

{"c":15,"s":"r1","v":-0.5,"i":-0.5},{"c":15,"s":"r1","v":-0.4,"i":-0.1},{"c":15,"s":"r1","v":-0.3,"i":0.0},{"c":15,"s":"r1","v":-0.17,"i":0.4},{"c":15,"s":"r1","v":-0.1,"i":0.0},{"c":15,"s":"r1","v":0,"i":0.1},{"c":15,"s":"r1","v":0.1,"i":0.2},{"c":15,"s":"r1","v":0.15,"i":0.5},{"c":15,"s":"r1","v":0.2,"i":1.2},{"c":15,"s":"r1","v":0.3,"i":2.5},{"c":15,"s":"r1","v":0.4,"i":3.6},{"c":15,"s":"r1","v":0.5,"i":4.3},{"c":15,"s":"r1","v":0.6,"i":5.0},{"c":15,"s":"r1","v":0.7,"i":5.6},{"c":15,"s":"r1","v":0.8,"i":6.6},{"c":15,"s":"r1","v":0.85,"i":8.0},{"c":15,"s":"r1","v":0.9,"i":10.3},
{"c":15,"s":"r2","v":-0.5,"i":-0.5},{"c":15,"s":"r2","v":-0.4,"i":-0.5},{"c":15,"s":"r2","v":-0.3,"i":-0.4},{"c":15,"s":"r2","v":-0.17,"i":-0.3},{"c":15,"s":"r2","v":-0.1,"i":-0.3},{"c":15,"s":"r2","v":0,"i":-0.2},{"c":15,"s":"r2","v":0.1,"i":-0.1},{"c":15,"s":"r2","v":0.15,"i":0.0},{"c":15,"s":"r2","v":0.2,"i":0.4},{"c":15,"s":"r2","v":0.3,"i":1.6},{"c":15,"s":"r2","v":0.4,"i":2.7},{"c":15,"s":"r2","v":0.5,"i":3.5},{"c":15,"s":"r2","v":0.6,"i":4.2},{"c":15,"s":"r2","v":0.7,"i":4.9},{"c":15,"s":"r2","v":0.8,"i":5.9},{"c":15,"s":"r2","v":0.85,"i":7.4},{"c":15,"s":"r2","v":0.9,"i":10.3},
{"c":15,"s":"k1","v":-0.5,"i":-0.1},{"c":15,"s":"k1","v":0,"i":-0.05},{"c":15,"s":"k1","v":0.3,"i":0.0},{"c":15,"s":"k1","v":0.5,"i":0.15},{"c":15,"s":"k1","v":0.6,"i":0.5},{"c":15,"s":"k1","v":0.7,"i":1.1},{"c":15,"s":"k1","v":0.8,"i":1.9},{"c":15,"s":"k1","v":0.9,"i":2.9},{"c":15,"s":"k1","v":1.0,"i":4.0},{"c":15,"s":"k1","v":1.1,"i":5.1},
{"c":15,"s":"k2","v":-0.5,"i":-0.15},{"c":15,"s":"k2","v":0,"i":-0.1},{"c":15,"s":"k2","v":0.3,"i":-0.05},{"c":15,"s":"k2","v":0.5,"i":0.05},{"c":15,"s":"k2","v":0.6,"i":0.35},{"c":15,"s":"k2","v":0.7,"i":0.9},{"c":15,"s":"k2","v":0.8,"i":1.65},{"c":15,"s":"k2","v":0.9,"i":2.65},{"c":15,"s":"k2","v":1.0,"i":3.75},{"c":15,"s":"k2","v":1.1,"i":4.85},

{"c":16,"s":"r1","v":-0.5,"i":-0.3},{"c":16,"s":"r1","v":-0.4,"i":-0.05},{"c":16,"s":"r1","v":-0.3,"i":0.05},{"c":16,"s":"r1","v":-0.17,"i":0.1},{"c":16,"s":"r1","v":-0.1,"i":0.0},{"c":16,"s":"r1","v":0,"i":0.05},{"c":16,"s":"r1","v":0.1,"i":0.1},{"c":16,"s":"r1","v":0.15,"i":0.25},{"c":16,"s":"r1","v":0.2,"i":0.7},{"c":16,"s":"r1","v":0.3,"i":1.5},{"c":16,"s":"r1","v":0.4,"i":2.3},{"c":16,"s":"r1","v":0.5,"i":2.85},{"c":16,"s":"r1","v":0.6,"i":3.3},{"c":16,"s":"r1","v":0.7,"i":3.7},{"c":16,"s":"r1","v":0.8,"i":4.3},{"c":16,"s":"r1","v":0.85,"i":5.3},{"c":16,"s":"r1","v":0.9,"i":6.9},
{"c":16,"s":"r2","v":-0.5,"i":-0.35},{"c":16,"s":"r2","v":-0.4,"i":-0.25},{"c":16,"s":"r2","v":-0.3,"i":-0.2},{"c":16,"s":"r2","v":-0.17,"i":-0.15},{"c":16,"s":"r2","v":-0.1,"i":-0.2},{"c":16,"s":"r2","v":0,"i":-0.1},{"c":16,"s":"r2","v":0.1,"i":-0.05},{"c":16,"s":"r2","v":0.15,"i":0.0},{"c":16,"s":"r2","v":0.2,"i":0.35},{"c":16,"s":"r2","v":0.3,"i":1.1},{"c":16,"s":"r2","v":0.4,"i":1.9},{"c":16,"s":"r2","v":0.5,"i":2.5},{"c":16,"s":"r2","v":0.6,"i":3.0},{"c":16,"s":"r2","v":0.7,"i":3.4},{"c":16,"s":"r2","v":0.8,"i":4.0},{"c":16,"s":"r2","v":0.85,"i":5.0},{"c":16,"s":"r2","v":0.9,"i":6.9},
{"c":16,"s":"k1","v":-0.5,"i":-0.1},{"c":16,"s":"k1","v":0,"i":-0.05},{"c":16,"s":"k1","v":0.3,"i":0.0},{"c":16,"s":"k1","v":0.5,"i":0.05},{"c":16,"s":"k1","v":0.6,"i":0.15},{"c":16,"s":"k1","v":0.7,"i":0.4},{"c":16,"s":"k1","v":0.8,"i":0.85},{"c":16,"s":"k1","v":0.9,"i":1.45},{"c":16,"s":"k1","v":1.0,"i":2.05},{"c":16,"s":"k1","v":1.1,"i":2.7},
{"c":16,"s":"k2","v":-0.5,"i":-0.15},{"c":16,"s":"k2","v":0,"i":-0.1},{"c":16,"s":"k2","v":0.3,"i":-0.05},{"c":16,"s":"k2","v":0.5,"i":0.0},{"c":16,"s":"k2","v":0.6,"i":0.1},{"c":16,"s":"k2","v":0.7,"i":0.32},{"c":16,"s":"k2","v":0.8,"i":0.75},{"c":16,"s":"k2","v":0.9,"i":1.35},{"c":16,"s":"k2","v":1.0,"i":1.95},{"c":16,"s":"k2","v":1.1,"i":2.6}
]},
"columns": 4,
"spacing": {"row": 4, "column": 3},
"concat": [
{"title":"Ch 1","width":126,"height":94,"transform":[{"filter":"datum.c==1"}],"mark":{"type":"line","strokeWidth":1,"clip":true},
 "encoding":{"x":{"field":"v","type":"quantitative","scale":{"domain":[-0.53,1.1],"nice":false,"zero":false},"axis":{"values":[-0.4,-0.2,0,0.2,0.4,0.6,0.8,1.0],"format":".1f","title":"Voltage (V)"}},
 "y":{"field":"i","type":"quantitative","scale":{"domain":[-1,7],"nice":false,"zero":false},"axis":{"values":[-1,0,1,2,3,4,5,6,7],"format":"d","title":"Current (nA)"}},
 "color":{"field":"s","type":"nominal","scale":{"domain":["r1","r2","k1","k2"],"range":["#e4302b","#e4302b","#222222","#222222"]},"legend":null}}},
{"title":"Ch 2","width":126,"height":94,"transform":[{"filter":"datum.c==2"}],"mark":{"type":"line","strokeWidth":1,"clip":true},
 "encoding":{"x":{"field":"v","type":"quantitative","scale":{"domain":[-0.53,1.1],"nice":false,"zero":false},"axis":{"values":[-0.4,-0.2,0,0.2,0.4,0.6,0.8,1.0],"format":".1f","title":"Voltage (V)"}},
 "y":{"field":"i","type":"quantitative","scale":{"domain":[-0.1,0.2],"nice":false,"zero":false},"axis":{"values":[-0.1,-0.05,0,0.05,0.1,0.15,0.2],"format":".2f","title":"Current (nA)"}},
 "color":{"field":"s","type":"nominal","scale":{"domain":["r1","r2","k1","k2"],"range":["#e4302b","#e4302b","#222222","#222222"]},"legend":null}}},
{"title":"Ch 3","width":126,"height":94,"transform":[{"filter":"datum.c==3"}],"mark":{"type":"line","strokeWidth":1,"clip":true},
 "encoding":{"x":{"field":"v","type":"quantitative","scale":{"domain":[-0.53,1.1],"nice":false,"zero":false},"axis":{"values":[-0.4,-0.2,0,0.2,0.4,0.6,0.8,1.0],"format":".1f","title":"Voltage (V)"}},
 "y":{"field":"i","type":"quantitative","scale":{"domain":[-1.1,10.9],"nice":false,"zero":false},"axis":{"values":[0,2,4,6,8,10],"format":"d","title":"Current (nA)"}},
 "color":{"field":"s","type":"nominal","scale":{"domain":["r1","r2","k1","k2"],"range":["#e4302b","#e4302b","#222222","#222222"]},"legend":null}}},
{"title":"Ch 4","width":126,"height":94,"transform":[{"filter":"datum.c==4"}],"mark":{"type":"line","strokeWidth":1,"clip":true},
 "encoding":{"x":{"field":"v","type":"quantitative","scale":{"domain":[-0.62,1.1],"nice":false,"zero":false},"axis":{"values":[-0.6,-0.4,-0.2,0,0.2,0.4,0.6,0.8,1.0],"format":".1f","title":"Voltage (V)"}},
 "y":{"field":"i","type":"quantitative","scale":{"domain":[-1,12.8],"nice":false,"zero":false},"axis":{"values":[0,2,4,6,8,10,12],"format":"d","title":"Current (nA)"}},
 "color":{"field":"s","type":"nominal","scale":{"domain":["r1","r2","k1","k2"],"range":["#e4302b","#e4302b","#222222","#222222"]},"legend":null}}},
{"title":"Ch 5","width":126,"height":94,"transform":[{"filter":"datum.c==5"}],"mark":{"type":"line","strokeWidth":1,"clip":true},
 "encoding":{"x":{"field":"v","type":"quantitative","scale":{"domain":[-0.53,1.1],"nice":false,"zero":false},"axis":{"values":[-0.4,-0.2,0,0.2,0.4,0.6,0.8,1.0],"format":".1f","title":"Voltage (V)"}},
 "y":{"field":"i","type":"quantitative","scale":{"domain":[-1.4,10.8],"nice":false,"zero":false},"axis":{"values":[0,2,4,6,8,10],"format":"d","title":"Current (nA)"}},
 "color":{"field":"s","type":"nominal","scale":{"domain":["r1","r2","k1","k2"],"range":["#e4302b","#e4302b","#222222","#222222"]},"legend":null}}},
{"title":"Ch 6","width":126,"height":94,"transform":[{"filter":"datum.c==6"}],"mark":{"type":"line","strokeWidth":1,"clip":true},
 "encoding":{"x":{"field":"v","type":"quantitative","scale":{"domain":[-0.53,1.1],"nice":false,"zero":false},"axis":{"values":[-0.4,-0.2,0,0.2,0.4,0.6,0.8,1.0],"format":".1f","title":"Voltage (V)"}},
 "y":{"field":"i","type":"quantitative","scale":{"domain":[-0.5,2.5],"nice":false,"zero":false},"axis":{"values":[-0.5,0,0.5,1,1.5,2,2.5],"format":".1f","title":"Current (nA)"}},
 "color":{"field":"s","type":"nominal","scale":{"domain":["r1","r2","k1","k2"],"range":["#e4302b","#e4302b","#222222","#222222"]},"legend":null}}},
{"title":"Ch 7","width":126,"height":94,"transform":[{"filter":"datum.c==7"}],"mark":{"type":"line","strokeWidth":1,"clip":true},
 "encoding":{"x":{"field":"v","type":"quantitative","scale":{"domain":[-0.53,1.1],"nice":false,"zero":false},"axis":{"values":[-0.4,-0.2,0,0.2,0.4,0.6,0.8,1.0],"format":".1f","title":"Voltage (V)"}},
 "y":{"field":"i","type":"quantitative","scale":{"domain":[-1,12.7],"nice":false,"zero":false},"axis":{"values":[0,2,4,6,8,10,12],"format":"d","title":"Current (nA)"}},
 "color":{"field":"s","type":"nominal","scale":{"domain":["r1","r2","k1","k2"],"range":["#e4302b","#e4302b","#222222","#222222"]},"legend":null}}},
{"title":"Ch 8","width":126,"height":94,"transform":[{"filter":"datum.c==8"}],"mark":{"type":"line","strokeWidth":1,"clip":true},
 "encoding":{"x":{"field":"v","type":"quantitative","scale":{"domain":[-0.53,1.1],"nice":false,"zero":false},"axis":{"values":[-0.4,-0.2,0,0.2,0.4,0.6,0.8,1.0],"format":".1f","title":"Voltage (V)"}},
 "y":{"field":"i","type":"quantitative","scale":{"domain":[-1,7],"nice":false,"zero":false},"axis":{"values":[-1,0,1,2,3,4,5,6,7],"format":"d","title":"Current (nA)"}},
 "color":{"field":"s","type":"nominal","scale":{"domain":["r1","r2","k1","k2"],"range":["#e4302b","#e4302b","#222222","#222222"]},"legend":null}}},
{"title":"Ch 9","width":126,"height":94,"transform":[{"filter":"datum.c==9"}],"mark":{"type":"line","strokeWidth":1,"clip":true},
 "encoding":{"x":{"field":"v","type":"quantitative","scale":{"domain":[-0.53,1.1],"nice":false,"zero":false},"axis":{"values":[-0.4,-0.2,0,0.2,0.4,0.6,0.8,1.0],"format":".1f","title":"Voltage (V)"}},
 "y":{"field":"i","type":"quantitative","scale":{"domain":[-1.4,12],"nice":false,"zero":false},"axis":{"values":[0,2,4,6,8,10,12],"format":"d","title":"Current (nA)"}},
 "color":{"field":"s","type":"nominal","scale":{"domain":["r1","r2","k1","k2"],"range":["#e4302b","#e4302b","#222222","#222222"]},"legend":null}}},
{"title":"Ch 10","width":126,"height":94,"transform":[{"filter":"datum.c==10"}],"mark":{"type":"line","strokeWidth":1,"clip":true},
 "encoding":{"x":{"field":"v","type":"quantitative","scale":{"domain":[-0.53,1.1],"nice":false,"zero":false},"axis":{"values":[-0.4,-0.2,0,0.2,0.4,0.6,0.8,1.0],"format":".1f","title":"Voltage (V)"}},
 "y":{"field":"i","type":"quantitative","scale":{"domain":[-0.8,4],"nice":false,"zero":false},"axis":{"values":[0,1,2,3,4],"format":"d","title":"Current (nA)"}},
 "color":{"field":"s","type":"nominal","scale":{"domain":["r1","r2","k1","k2"],"range":["#e4302b","#e4302b","#222222","#222222"]},"legend":null}}},
{"title":"Ch 11","width":126,"height":94,"transform":[{"filter":"datum.c==11"}],"mark":{"type":"line","strokeWidth":1,"clip":true},
 "encoding":{"x":{"field":"v","type":"quantitative","scale":{"domain":[-0.53,1.1],"nice":false,"zero":false},"axis":{"values":[-0.4,-0.2,0,0.2,0.4,0.6,0.8,1.0],"format":".1f","title":"Voltage (V)"}},
 "y":{"field":"i","type":"quantitative","scale":{"domain":[-1,14.2],"nice":false,"zero":false},"axis":{"values":[0,2,4,6,8,10,12,14],"format":"d","title":"Current (nA)"}},
 "color":{"field":"s","type":"nominal","scale":{"domain":["r1","r2","k1","k2"],"range":["#e4302b","#e4302b","#222222","#222222"]},"legend":null}}},
{"title":"Ch 12","width":126,"height":94,"transform":[{"filter":"datum.c==12"}],"mark":{"type":"line","strokeWidth":1,"clip":true},
 "encoding":{"x":{"field":"v","type":"quantitative","scale":{"domain":[-0.53,1.1],"nice":false,"zero":false},"axis":{"values":[-0.4,-0.2,0,0.2,0.4,0.6,0.8,1.0],"format":".1f","title":"Voltage (V)"}},
 "y":{"field":"i","type":"quantitative","scale":{"domain":[-0.8,9],"nice":false,"zero":false},"axis":{"values":[0,2,4,6,8],"format":"d","title":"Current (nA)"}},
 "color":{"field":"s","type":"nominal","scale":{"domain":["r1","r2","k1","k2"],"range":["#e4302b","#e4302b","#222222","#222222"]},"legend":null}}},
{"title":"Ch 13","width":126,"height":94,"transform":[{"filter":"datum.c==13"}],"mark":{"type":"line","strokeWidth":1,"clip":true},
 "encoding":{"x":{"field":"v","type":"quantitative","scale":{"domain":[-0.53,1.1],"nice":false,"zero":false},"axis":{"values":[-0.4,-0.2,0,0.2,0.4,0.6,0.8,1.0],"format":".1f","title":"Voltage (V)"}},
 "y":{"field":"i","type":"quantitative","scale":{"domain":[-1,8],"nice":false,"zero":false},"axis":{"values":[0,2,4,6,8],"format":"d","title":"Current (nA)"}},
 "color":{"field":"s","type":"nominal","scale":{"domain":["r1","r2","k1","k2"],"range":["#e4302b","#e4302b","#222222","#222222"]},"legend":null}}},
{"title":"Ch 14","width":126,"height":94,"transform":[{"filter":"datum.c==14"}],"mark":{"type":"line","strokeWidth":1,"clip":true},
 "encoding":{"x":{"field":"v","type":"quantitative","scale":{"domain":[-0.53,1.1],"nice":false,"zero":false},"axis":{"values":[-0.4,-0.2,0,0.2,0.4,0.6,0.8,1.0],"format":".1f","title":"Voltage (V)"}},
 "y":{"field":"i","type":"quantitative","scale":{"domain":[-1,12],"nice":false,"zero":false},"axis":{"values":[0,2,4,6,8,10,12],"format":"d","title":"Current (nA)"}},
 "color":{"field":"s","type":"nominal","scale":{"domain":["r1","r2","k1","k2"],"range":["#e4302b","#e4302b","#222222","#222222"]},"legend":null}}},
{"title":"Ch 15","width":126,"height":94,"transform":[{"filter":"datum.c==15"}],"mark":{"type":"line","strokeWidth":1,"clip":true},
 "encoding":{"x":{"field":"v","type":"quantitative","scale":{"domain":[-0.53,1.1],"nice":false,"zero":false},"axis":{"values":[-0.4,-0.2,0,0.2,0.4,0.6,0.8,1.0],"format":".1f","title":"Voltage (V)"}},
 "y":{"field":"i","type":"quantitative","scale":{"domain":[-1,10.8],"nice":false,"zero":false},"axis":{"values":[0,2,4,6,8,10],"format":"d","title":"Current (nA)"}},
 "color":{"field":"s","type":"nominal","scale":{"domain":["r1","r2","k1","k2"],"range":["#e4302b","#e4302b","#222222","#222222"]},"legend":null}}},
{"title":"Ch 16","width":126,"height":94,"transform":[{"filter":"datum.c==16"}],"mark":{"type":"line","strokeWidth":1,"clip":true},
 "encoding":{"x":{"field":"v","type":"quantitative","scale":{"domain":[-0.53,1.1],"nice":false,"zero":false},"axis":{"values":[-0.4,-0.2,0,0.2,0.4,0.6,0.8,1.0],"format":".1f","title":"Voltage (V)"}},
 "y":{"field":"i","type":"quantitative","scale":{"domain":[-1,8],"nice":false,"zero":false},"axis":{"values":[0,2,4,6,8],"format":"d","title":"Current (nA)"}},
 "color":{"field":"s","type":"nominal","scale":{"domain":["r1","r2","k1","k2"],"range":["#e4302b","#e4302b","#222222","#222222"]},"legend":null}}}
],
"config": {
 "view": {"stroke": "#9a9a9a", "strokeWidth": 1},
 "axis": {"domainColor": "#9a9a9a", "tickColor": "#9a9a9a", "tickSize": 3, "labelFont": "Liberation Sans", "labelFontSize": 8, "labelColor": "#333333", "labelPadding": 1, "labelExpr": "replace(datum.label, '\u2212', '-')", "titleFont": "Lato", "titleFontSize": 13, "titleFontWeight": "normal", "titleColor": "#222222", "grid": false, "labelFlush": false, "labelOverlap": false},
 "axisY": {"minExtent": 24, "maxExtent": 24, "titlePadding": 2},
 "axisX": {"titlePadding": 4},
 "title": {"fontSize": 9, "fontWeight": "normal", "font": "Liberation Sans", "color": "#222222", "offset": -22, "anchor": "middle"}
}
}
